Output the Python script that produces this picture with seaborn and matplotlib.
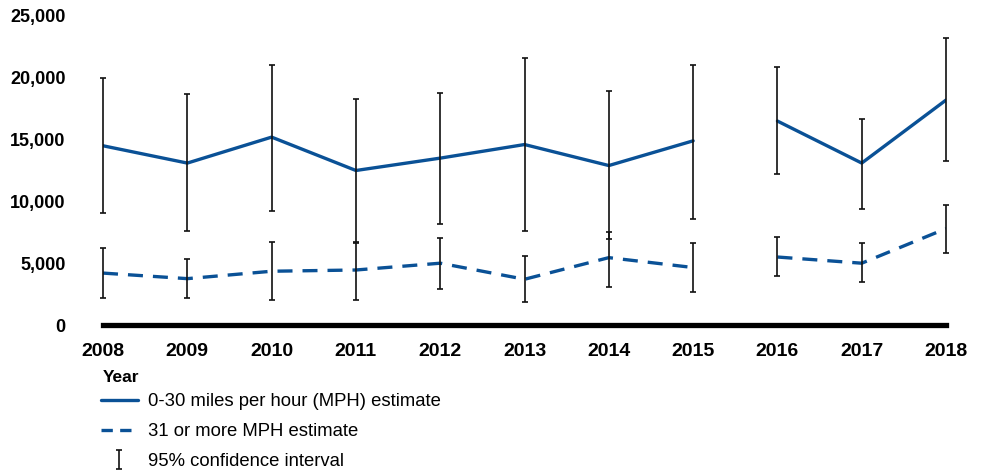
import numpy as np
import pandas as pd
import seaborn as sns
import matplotlib.pyplot as plt
from matplotlib.lines import Line2D

# values
years = list(range(2008, 2019))
slow_est = [14500, 13100, 15200, 12500, 13500, 14600, 12900, 14900, 16500, 13100, 18200]
slow_low = [9050, 7600, 9250, 6700, 8200, 7600, 6950, 8600, 12200, 9400, 13300]
slow_high = [19950, 18700, 21050, 18250, 18800, 21600, 18900, 21000, 20900, 16700, 23200]
fast_est = [4200, 3750, 4350, 4450, 5000, 3700, 5450, 4650, 5500, 5000, 7800]
fast_low = [2200, 2200, 2000, 2000, 2950, 1900, 3100, 2650, 3950, 3500, 5850]
fast_high = [6200, 5350, 6750, 6650, 7050, 5550, 7550, 6600, 7150, 6600, 9700]
y_ticks = [0, 5000, 10000, 15000, 20000, 25000]

BLUE = "#0a5196"

sns.set_theme(style="white")
plt.rcParams["font.family"] = ["Liberation Sans", "DejaVu Sans"]
plt.rcParams["text.color"] = "black"
plt.rcParams["xtick.color"] = "black"
plt.rcParams["ytick.color"] = "black"
plt.rcParams["axes.labelcolor"] = "black"

df = pd.DataFrame({
    "year": years * 2,
    "value": slow_est + fast_est,
    "series": ["slow"] * len(years) + ["fast"] * len(years),
})
# the series break between 2015 and 2016
df["segment"] = np.where(df["year"] <= 2015, 0, 1)

fig = plt.figure(figsize=(9.83, 4.70), dpi=100)
ax = fig.add_axes([0.1048, 0.3085, 0.8576, 0.6575])

sns.lineplot(data=df[df["series"] == "slow"], x="year", y="value", units="segment",
             estimator=None, color=BLUE, linewidth=2.4, ax=ax)
sns.lineplot(data=df[df["series"] == "fast"], x="year", y="value", units="segment",
             estimator=None, color=BLUE, linewidth=2.4, linestyle=(0, (4.5, 3)), ax=ax)

slow_err = [np.array(slow_est) - np.array(slow_low), np.array(slow_high) - np.array(slow_est)]
fast_err = [np.array(fast_est) - np.array(fast_low), np.array(fast_high) - np.array(fast_est)]
ci = ax.errorbar(years, slow_est, yerr=slow_err, fmt="none", ecolor="#111111",
                 elinewidth=1.2, capsize=2.5, capthick=1.2, zorder=3, clip_on=False)
ax.errorbar(years, fast_est, yerr=fast_err, fmt="none", ecolor="#111111",
            elinewidth=1.2, capsize=2.5, capthick=1.2, zorder=3, clip_on=False)

ax.set_xlim(2008, 2018)
ax.set_ylim(0, 25000)
ax.set_xticks(years)
ax.set_xticklabels([str(y) for y in years], fontweight="bold", fontsize=14)
ax.set_yticks(y_ticks)
ax.set_yticklabels([f"{v:,}" for v in y_ticks], fontweight="bold", fontsize=13)
ax.tick_params(axis="y", length=0, pad=27)
ax.tick_params(axis="x", length=0, pad=13)
ax.grid(False)

for side in ["left", "right", "top"]:
    ax.spines[side].set_visible(False)
ax.spines["bottom"].set_color("black")
ax.spines["bottom"].set_linewidth(3.8)

ax.set_xlabel("Year", fontweight="bold", fontsize=12.5, loc="left", labelpad=7)
ax.set_ylabel("")

handles = [
    Line2D([], [], color=BLUE, linewidth=2.4),
    Line2D([], [], color=BLUE, linewidth=2.4, linestyle=(0, (3.4, 2.2))),
    ci,
]
labels = ["0-30 miles per hour (MPH) estimate", "31 or more MPH estimate",
          "95% confidence interval"]
fig.legend(handles, labels, loc="upper left", bbox_to_anchor=(0.095, 0.179),
           frameon=False, fontsize=13.3, handlelength=2.0, handletextpad=0.55,
           labelspacing=0.7, borderaxespad=0)

fig.savefig("out.png", dpi=100)
